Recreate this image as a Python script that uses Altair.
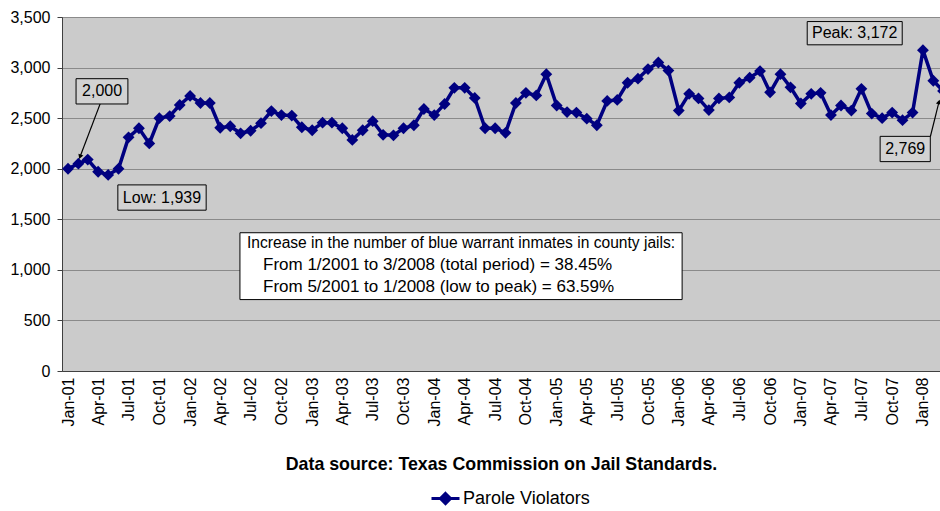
import altair as alt
import pandas as pd

NAVY = "#000080"
FONT = "Liberation Sans"

# Monthly parole violators (blue warrant inmates), Jan-2001 .. Mar-2008
values_2001 = [2000, 2050, 2090, 1970, 1939, 2000, 2310, 2400, 2250, 2500, 2520, 2630]
values_2002 = [2720, 2650, 2650, 2405, 2420, 2350, 2375, 2450, 2570, 2530, 2525, 2410]
values_2003 = [2380, 2455, 2455, 2400, 2285, 2380, 2470, 2335, 2330, 2400, 2430, 2590]
values_2004 = [2530, 2640, 2800, 2800, 2700, 2400, 2400, 2355, 2650, 2750, 2725, 2935]
values_2005 = [2625, 2560, 2555, 2495, 2430, 2670, 2680, 2850, 2890, 2985, 3050, 2970]
values_2006 = [2575, 2740, 2695, 2580, 2695, 2705, 2850, 2900, 2965, 2755, 2935, 2805]
values_2007 = [2645, 2740, 2750, 2530, 2625, 2575, 2790, 2545, 2500, 2555, 2480, 2555]
values_2008 = [3172, 2870, 2769]
values = (values_2001 + values_2002 + values_2003 + values_2004 +
          values_2005 + values_2006 + values_2007 + values_2008)

months = pd.date_range("2001-01-01", periods=len(values), freq="MS")
series_name = "Parole Violators"

tick_years = list(range(2001, 2009))
tick_months = [1, 4, 7, 10]

x_title = "Data source: Texas Commission on Jail Standards."

# annotation boxes (label, left date, right date, bottom value, top value)
box_labels = ["2,000", "Low: 1,939", "Peak: 3,172", "2,769"]
box_x1 = ["2001-01-25", "2001-05-30", "2007-01-20", "2007-08-26"]
box_x2 = ["2001-06-29", "2002-02-18", "2007-10-31", "2008-01-23"]
box_y1 = [2640, 1590, 3225, 2070]
box_y2 = [2890, 1840, 3455, 2320]
box_tx = ["2001-04-13", "2001-10-09", "2007-06-11", "2007-11-09"]
box_ty = [2765, 1715, 3340, 2195]

info_lines = [
    "Increase in the number of blue warrant inmates in county jails:",
    "From 1/2001 to 3/2008 (total period) = 38.45%",
    "From 5/2001 to 1/2008 (low to peak) = 63.59%",
]
info_size = [15.6, 17, 17]
info_x = ["2002-06-20", "2002-08-07", "2002-08-07"]
info_y = [1269, 1052, 834]
info_box = {"x1": "2002-05-30", "x2": "2006-01-11", "y1": 706, "y2": 1367}

# arrows (start -> end)
arrow_x1 = ["2001-04-07", "2008-01-23"]
arrow_y1 = [2641, 2315]
arrow_x2 = ["2001-02-06", "2008-02-18"]
arrow_y2 = [2118, 2661]
arrow_angle = [201, 14]

df = pd.DataFrame({"date": months, "value": values, "series": series_name})
boxes = pd.DataFrame({"label": box_labels, "date": pd.to_datetime(box_x1),
                      "date2": pd.to_datetime(box_x2),
                      "value": box_y1, "value2": box_y2,
                      "tx": pd.to_datetime(box_tx), "ty": box_ty})
info = pd.DataFrame({"text": info_lines, "date": pd.to_datetime(info_x), "value": info_y,
                     "fs": info_size})
ibox = pd.DataFrame({"date": [pd.Timestamp(info_box["x1"])], "date2": [pd.Timestamp(info_box["x2"])],
                     "value": [info_box["y1"]], "value2": [info_box["y2"]]})
arrows = pd.DataFrame({"date": pd.to_datetime(arrow_x1), "value": arrow_y1,
                       "date2": pd.to_datetime(arrow_x2), "value2": arrow_y2,
                       "angle": arrow_angle})

x_scale = alt.Scale(domain=[alt.DateTime(year=2000, month=12, date=14),
                            alt.DateTime(year=2008, month=2, date=21)])
y_scale = alt.Scale(domain=[0, 3500], nice=False)

x_axis = alt.Axis(
    values=[alt.DateTime(year=y, month=m, date=1) for y in tick_years for m in tick_months
            if not (y == 2008 and m > 1)],
    format="%b-%y", labelAngle=270, labelFont=FONT, labelFontSize=16, labelColor="black",
    labelPadding=6, ticks=False, grid=False, domainColor="#404040",
    title=x_title, titleFont=FONT, titleFontSize=17.8, titleFontWeight="bold",
    titleColor="black", titlePadding=30, labelOverlap=False, labelFlush=False,
)
y_axis = alt.Axis(
    values=list(range(0, 3501, 500)), format=",.0f", labelFont=FONT, labelFontSize=16,
    labelColor="black", labelPadding=7, tickSize=5, tickColor="#404040",
    domainColor="#404040", grid=True, gridColor="#8a8a8a", gridWidth=1, title=None,
)

X = alt.X("date:T", scale=x_scale, axis=x_axis, title=x_title)
Y = alt.Y("value:Q", scale=y_scale, axis=y_axis, title=None)

color = alt.Color(
    "series:N",
    scale=alt.Scale(domain=[series_name], range=[NAVY]),
    legend=alt.Legend(
        title=None, orient="none", legendX=368, legendY=466, direction="horizontal",
        labelFont=FONT, labelFontSize=18, labelColor="black", labelOffset=2,
        symbolType="M-1,0H1M0,-0.36L0.36,0L0,0.36L-0.36,0Z", symbolSize=784,
        symbolStrokeWidth=3, symbolFillColor=NAVY, symbolStrokeColor=NAVY,
        symbolOpacity=1,
    ),
)

line = alt.Chart(df).mark_line(strokeWidth=3.5, clip=True).encode(x=X, y=Y, color=color)
pts = alt.Chart(df).mark_point(shape="diamond", filled=True, size=140, opacity=1,
                               clip=True).encode(x=X, y=Y, color=color)

box_rect = alt.Chart(boxes).mark_rect(fill="#d2d2d2", stroke="black", strokeWidth=1).encode(
    x=X, x2=alt.X2("date2:T", title=x_title), y=Y, y2=alt.Y2("value2:Q", title=None))
box_text = alt.Chart(boxes).mark_text(font=FONT, fontSize=16, color="black",
                                      align="center", baseline="middle").encode(
    x=alt.X("tx:T", scale=x_scale, axis=x_axis, title=x_title),
    y=alt.Y("ty:Q", scale=y_scale, axis=y_axis, title=None), text="label:N")

info_rect = alt.Chart(ibox).mark_rect(fill="white", stroke="black", strokeWidth=1).encode(
    x=X, x2=alt.X2("date2:T", title=x_title), y=Y, y2=alt.Y2("value2:Q", title=None))
info_text = alt.Chart(info).mark_text(font=FONT, color="black",
                                      align="left", baseline="middle").encode(
    x=X, y=Y, text="text:N", size=alt.Size("fs:Q", scale=None, legend=None))

arrow_line = alt.Chart(arrows).mark_rule(color="black", strokeWidth=1.2).encode(
    x=X, x2=alt.X2("date2:T", title=x_title), y=Y, y2=alt.Y2("value2:Q", title=None))
arrow_head = alt.Chart(arrows).mark_point(shape="triangle-up", filled=True, size=28,
                                          color="black", opacity=1, clip=True).encode(
    x=alt.X("date2:T", scale=x_scale, axis=x_axis, title=x_title),
    y=alt.Y("value2:Q", scale=y_scale, axis=y_axis, title=None),
    angle=alt.Angle("angle:Q", scale=None))

chart = alt.layer(
    line, pts, arrow_line, arrow_head, box_rect, box_text, info_rect, info_text
).properties(
    width=878, height=354,
    autosize=alt.AutoSizeParams(type="none"),
    padding={"left": 62, "top": 17, "right": 0, "bottom": 140},
    background="white",
).configure_view(
    fill="#cbcbcb", stroke="#7f7f7f", strokeWidth=1,
)

chart.save("out.html", embed_options={"renderer": "svg", "actions": False})
